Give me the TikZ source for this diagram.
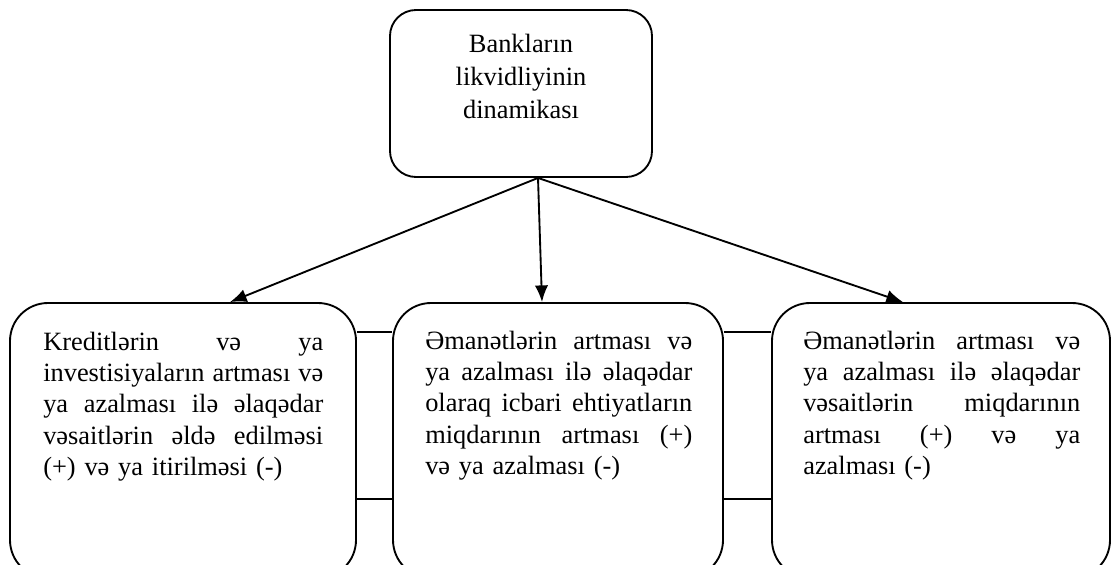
\documentclass[tikz,border=0pt]{standalone}
\usepackage{fontspec}
\setmainfont{Liberation Serif}
\usetikzlibrary{arrows.meta}
\newcommand\jl[1]{\leavevmode\hbox to \hsize{\strut #1}}
\begin{document}
\begin{tikzpicture}[x=0.75pt,y=-0.75pt,
  topbox/.style={draw, line width=1.4pt, rounded corners=19.5pt, inner sep=0pt,
    minimum width=262*0.75pt, minimum height=167*0.75pt},
  bbox/.style={draw, line width=1.4pt, rounded corners=28.5pt, inner sep=0pt,
    minimum height=275*0.75pt},
  toptxt/.style={inner sep=0pt, anchor=north, align=center, text width=250pt,
    font=\fontsize{19.8pt}{24.75pt}\selectfont},
  txt/.style={inner sep=0pt, anchor=north west, align=left,
    font=\fontsize{19.8pt}{23.5pt}\selectfont},
  arr/.style={line width=1.4pt, -{Latex[length=12.5pt,width=10pt]}},
  link/.style={line width=1.4pt}]
\path[use as bounding box, clip] (0,0) rectangle (1112,564);

\node[topbox] (top) at (521,93.5) {};
\node[bbox, minimum width=346*0.75pt] (b1) at (183,440.5) {};
\node[bbox, minimum width=330*0.75pt] (b2) at (558,440.5) {};
\node[bbox, minimum width=338*0.75pt] (b3) at (941,440.5) {};

\node[toptxt] (t0) at (521,28.9) {\strut Bankların\\likvidliyinin\\dinamikası};

\node[txt, text width=210pt] (t1) at (43,328) {%
\jl{Kreditlərin\hfill və\hfill ya}\\
\jl{investisiyaların\hfill artması\hfill və}\\
\jl{ya\hfill azalması\hfill ilə\hfill əlaqədar}\\
\jl{vəsaitlərin\hfill əldə\hfill edilməsi}\\
\strut(+) və ya itirilməsi (-)};

\node[txt, text width=200.25pt] (t2) at (425,327) {%
\jl{Əmanətlərin\hfill artması\hfill və}\\
\jl{ya\hfill azalması\hfill ilə\hfill əlaqədar}\\
\jl{olaraq\hfill icbari\hfill ehtiyatların}\\
\jl{miqdarının\hfill artması\hfill (+)}\\
\strut və ya azalması (-)};

\node[txt, text width=207.75pt] (t3) at (803,327) {%
\jl{Əmanətlərin\hfill artması\hfill və}\\
\jl{ya\hfill azalması\hfill ilə\hfill əlaqədar}\\
\jl{vəsaitlərin\hfill miqdarının}\\
\jl{artması\hfill (+)\hfill və\hfill ya}\\
\strut azalması (-)};

\draw[link] ([yshift=81.4pt]b1.east) -- ([yshift=81.4pt]b2.west);
\draw[link] ([yshift=-43.9pt]b1.east) -- ([yshift=-43.9pt]b2.west);
\draw[link] ([yshift=81.4pt]b2.east) -- ([yshift=81.4pt]b3.west);
\draw[link] ([yshift=-43.9pt]b2.east) -- ([yshift=-43.9pt]b3.west);

\coordinate (src) at ([xshift=12.75pt]top.south);
\draw[arr] (src) -- ([xshift=35.25pt]b1.north);
\draw[arr] (src) -- ([xshift=-12pt]b2.north);
\draw[arr] (src) -- ([xshift=-28.5pt]b3.north);
\end{tikzpicture}
\end{document}
